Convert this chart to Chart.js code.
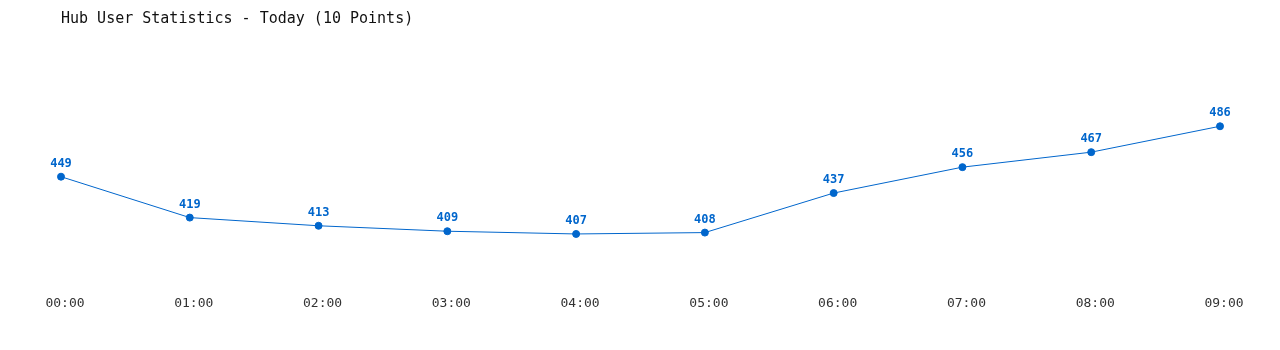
<!DOCTYPE html>
<html>
<head>
<meta charset="utf-8">
<script src="https://cdn.jsdelivr.net/npm/chart.js@4/dist/chart.umd.min.js"></script>
<style>
  html, body { margin: 0; padding: 0; background: #fff; }
  #wrap { width: 1280px; height: 350px; }
</style>
</head>
<body>
<div id="wrap"><canvas id="hubChart" width="1280" height="350"></canvas></div>
<script>
// data
const hours = ["00:00", "01:00", "02:00", "03:00", "04:00", "05:00", "06:00", "07:00", "08:00", "09:00"];
const users = [449, 419, 413, 409, 407, 408, 437, 456, 467, 486];
const yRange = [370, 550];

const MONO = "'DejaVu Sans Mono', 'Liberation Mono', monospace";
const BLUE = "#0066cc";

// draw the value above each point
const pointValues = {
  id: "pointValues",
  afterDatasetsDraw(chart) {
    const ctx = chart.ctx;
    const meta = chart.getDatasetMeta(0);
    ctx.save();
    ctx.font = "bold 12px " + MONO;
    ctx.fillStyle = BLUE;
    ctx.textAlign = "center";
    ctx.textBaseline = "middle";
    meta.data.forEach((pt, i) => {
      ctx.fillText(String(users[i]), pt.x, pt.y - 13);
    });
    ctx.restore();
  },
};

new Chart(document.getElementById("hubChart"), {
  type: "line",
  data: {
    labels: hours,
    datasets: [
      {
        data: users,
        borderColor: BLUE,
        backgroundColor: BLUE,
        borderWidth: 1,
        pointRadius: 3.5,
        pointHoverRadius: 3.5,
        tension: 0,
        fill: false,
      },
    ],
  },
  options: {
    responsive: false,
    animation: false,
    layout: { padding: { left: 61, right: 60, top: 0, bottom: 36 } },
    plugins: {
      legend: { display: false },
      tooltip: { enabled: false },
      title: {
        display: true,
        text: "Hub User Statistics - Today (10 Points)",
        align: "start",
        color: "#111",
        font: { family: MONO, size: 15, weight: "normal" },
        padding: { top: 10, bottom: 11 },
      },
    },
    scales: {
      x: {
        grid: { display: false },
        border: { display: false },
        ticks: {
          color: "#333",
          font: { family: MONO, size: 13 },
          padding: 3,
          labelOffset: 4,
          maxRotation: 0,
          autoSkip: false,
        },
      },
      y: {
        display: false,
        min: yRange[0],
        max: yRange[1],
      },
    },
  },
  plugins: [pointValues],
});
</script>
</body>
</html>
